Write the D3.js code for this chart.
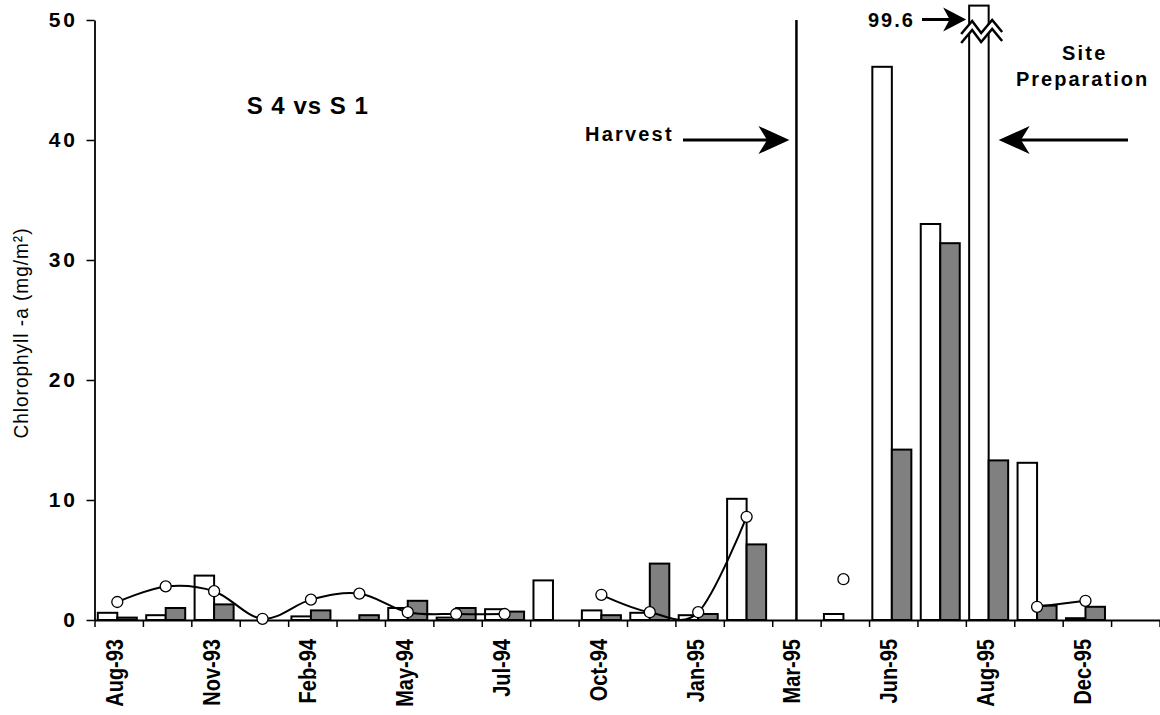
<!DOCTYPE html>
<html><head><meta charset="utf-8">
<script src="https://cdn.jsdelivr.net/npm/d3@7"></script>
<style>
body{margin:0;background:#fff;}
svg{display:block;}
text{font-family:Arial,"Liberation Sans",sans-serif;fill:#000;}
</style>
</head><body>
<svg id="chart" width="1160" height="715"></svg>
<script>
// ---- data ----
const categories = ["Aug-93","","Nov-93","","Feb-94","","May-94","","Jul-94","","Oct-94","","Jan-95","","Mar-95","","Jun-95","","Aug-95","","Dec-95",""];
const s4Values = [0.6,0.4,3.7,0,0.3,0,1.0,0.2,0.9,3.3,0.8,0.6,0.4,10.1,0,0.5,46.1,33.0,99.6,13.1,0.15,0];
const s1Values = [0.2,1.0,1.3,0,0.8,0.4,1.6,1.0,0.7,0,0.4,4.7,0.5,6.3,0,0,14.2,31.4,13.3,1.2,1.1,0];
const lineValues = [1.5,2.8,2.4,0.1,1.7,2.2,0.65,0.5,0.5,null,2.1,0.65,0.65,8.6,null,3.4,null,null,null,1.1,1.6,null];
const yTicks = [0,10,20,30,40,50];
const harvestIndex = 14;
const brokenIndex = 18;
const brokenLabel = "99.6";

(function draw() {
// ---- layout ----
const svg = d3.select("#chart");
const pLeft = 94.5, pRight = 1159.5, pTop = 20, pBottom = 620;
const yDisplayMax = 51.2;

const y = d3.scaleLinear().domain([0,50]).range([pBottom, pTop]);
const idx = d3.range(categories.length);
const x0 = d3.scaleBand().domain(idx).range([pLeft, pRight]).padding(0);
const x1 = d3.scaleBand().domain(["s4","s1"]).range([0, x0.bandwidth()])
  .paddingInner(0).paddingOuter(0.241).align(0.35);
const xEdge = d3.scaleLinear().domain([0, categories.length]).range([pLeft, pRight]);
const groupCenter = i => x0(i) + x1("s1");

// ---- axes ----
const xAxis = svg.append("g").attr("transform", `translate(0,${pBottom})`)
  .call(d3.axisBottom(xEdge).tickValues(d3.range(categories.length + 1)).tickSize(7).tickSizeOuter(0).tickFormat(""));
xAxis.select(".domain").attr("stroke-width", 2);
xAxis.selectAll(".tick line").attr("stroke-width", 1.5);

const yAxis = svg.append("g").attr("transform", `translate(${pLeft},0)`)
  .call(d3.axisLeft(y).tickValues(yTicks).tickSize(8).tickSizeOuter(0).tickPadding(8.5));
yAxis.select(".domain").attr("stroke-width", 1.8);
yAxis.selectAll(".tick line").attr("stroke-width", 1.5);
yAxis.selectAll(".tick text")
  .attr("font-family", 'Arial,"Liberation Sans",sans-serif')
  .attr("font-size", 21).attr("font-weight", "bold")
  .style("letter-spacing", "3px").attr("fill", "#000");

// x category labels (rotated)
svg.append("g").selectAll("text")
  .data(idx.filter(i => categories[i] !== ""))
  .join("text")
  .attr("transform", i => `translate(${x0(i) + x0.bandwidth()/2 + 4},639) rotate(-90) scale(1,1.15)`)
  .attr("text-anchor", "end")
  .attr("font-size", 20).attr("font-weight", "bold")
  .text(i => categories[i]);

// y axis title
svg.append("text")
  .attr("transform", `translate(28,${(pTop+pBottom)/2 + 13}) rotate(-90) scale(1,1.1)`)
  .attr("text-anchor", "middle")
  .attr("font-size", 19)
  .style("letter-spacing", "1px")
  .text("Chlorophyll -a (mg/m²)");

// ---- bars ----
const bars = [];
idx.forEach(i => {
  bars.push({i, key: "s4", v: s4Values[i]});
  bars.push({i, key: "s1", v: s1Values[i]});
});
svg.append("g").selectAll("rect")
  .data(bars.filter(d => d.v > 0))
  .join("rect")
  .attr("x", d => x0(d.i) + x1(d.key))
  .attr("width", x1.bandwidth())
  .attr("y", d => y(Math.min(d.v, yDisplayMax)))
  .attr("height", d => y(0) - y(Math.min(d.v, yDisplayMax)))
  .attr("fill", d => d.key === "s4" ? "#ffffff" : "#808080")
  .attr("stroke", "#000").attr("stroke-width", 2);

// axis break on the off-scale bar
{
  const bx = x0(brokenIndex) + x1("s4");
  const up = [[bx-8,34],[bx+3,21],[bx+12,33],[bx+23,20],[bx+33,32]];
  const lo = up.map(([px,py]) => [px, py + 9]);
  const poly = up.concat(lo.slice().reverse());
  svg.append("path").attr("d", "M" + poly.map(p => p.join(",")).join("L") + "Z")
    .attr("fill", "#fff").attr("stroke", "none");
  const ln = d3.line();
  [up, lo].forEach(pts => svg.append("path").attr("d", ln(pts))
    .attr("fill", "none").attr("stroke", "#000").attr("stroke-width", 2.5).attr("stroke-linejoin", "miter"));
}

// ---- harvest vertical line ----
const hx = x0(harvestIndex) + x0.bandwidth()/2;
svg.append("line").attr("x1", hx).attr("x2", hx).attr("y1", y(50)).attr("y2", y(0))
  .attr("stroke", "#000").attr("stroke-width", 2.5);

// ---- line + circles ----
const pts = idx.map(i => ({i, v: lineValues[i]}));
svg.append("path")
  .datum(pts)
  .attr("d", d3.line().defined(d => d.v != null)
    .x(d => groupCenter(d.i)).y(d => y(d.v))
    .curve(d3.curveCardinal.tension(0)))
  .attr("fill", "none").attr("stroke", "#000").attr("stroke-width", 2);
svg.append("g").selectAll("circle")
  .data(pts.filter(d => d.v != null))
  .join("circle")
  .attr("cx", d => groupCenter(d.i)).attr("cy", d => y(d.v)).attr("r", 5.5)
  .attr("fill", "#fff").attr("stroke", "#000").attr("stroke-width", 1.3);

// ---- annotations ----
function arrow(xFrom, xTip, yy, len, half, sw) {
  const dir = xTip > xFrom ? 1 : -1;
  svg.append("line").attr("x1", xFrom).attr("x2", xTip - dir*len*0.7).attr("y1", yy).attr("y2", yy)
    .attr("stroke", "#000").attr("stroke-width", sw);
  svg.append("path")
    .attr("d", `M${xTip},${yy}L${xTip-dir*len},${yy-half}L${xTip-dir*len*0.72},${yy}L${xTip-dir*len},${yy+half}Z`)
    .attr("fill", "#000");
}
svg.append("text").attr("x", 246.7).attr("y", 114.3)
  .attr("font-size", 24).attr("font-weight", "bold").style("letter-spacing", "1px")
  .text("S 4 vs S 1");
svg.append("text").attr("x", 585).attr("y", 141)
  .attr("font-size", 20).attr("font-weight", "bold").style("letter-spacing", "2.2px")
  .text("Harvest");
arrow(683, hx - 7, y(40), 31, 14, 3.2);

svg.append("text").attr("x", 868).attr("y", 27)
  .attr("font-size", 20).attr("font-weight", "bold").style("letter-spacing", "2px")
  .text(brokenLabel);
arrow(922, x0(brokenIndex) + x1("s4") - 3, 19.5, 23, 12, 3);

svg.append("text").attr("x", 1062).attr("y", 60)
  .attr("font-size", 20).attr("font-weight", "bold").style("letter-spacing", "2.2px")
  .text("Site");
svg.append("text").attr("x", 1016).attr("y", 86)
  .attr("font-size", 20).attr("font-weight", "bold").style("letter-spacing", "2px")
  .text("Preparation");
arrow(1128, x0(brokenIndex) + x1("s1") + 10, y(40), 31, 14, 3.2);
})();
</script>
</body></html>
